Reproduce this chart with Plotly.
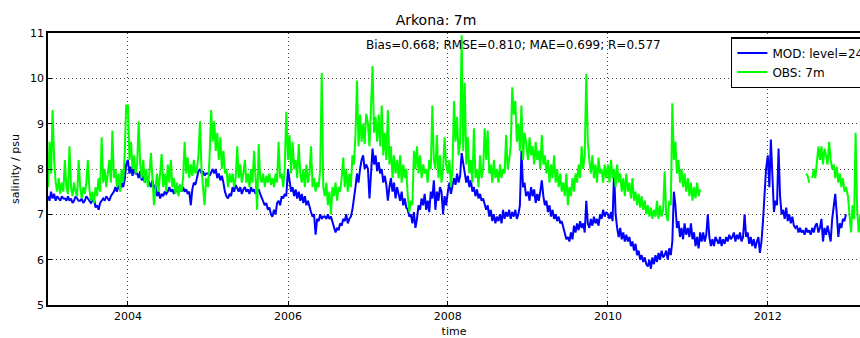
import datetime as dt
import plotly.graph_objects as go

# Weekly salinity at Arkona, 7 m (psu); one list per calendar year, week 0 = 1 January.
mod_2003 = [7.4, 7.3, 7.5, 7.35, 7.45, 7.3, 7.4, 7.35, 7.3, 7.4, 7.35, 7.35, 7.3, 7.4, 7.3, 7.35,
            7.25, 7.3, 7.4, 7.35, 7.3, 7.3, 7.35, 7.25, 7.3, 7.4, 7.35, 7.3, 7.25, 7.3, 7.35, 7.15,
            7.2, 7.1, 7.25, 7.3, 7.35, 7.3, 7.4, 7.35, 7.3, 7.4, 7.45, 7.5, 7.6, 7.5, 7.65, 7.55,
            7.7, 7.6, 7.75, 8.1]
obs_2003 = [7.6, 8.6, 7.9, 9.3, 8.2, 7.7, 7.5, 7.8, 7.45, 7.7, 7.5, 8.2, 7.6, 7.45, 8.5, 7.6,
            7.4, 7.7, 7.5, 7.4, 8.2, 7.6, 7.35, 7.6, 7.45, 7.7, 8.2, 7.55, 7.3, 7.5, 7.25, 7.6,
            7.4, 7.8, 7.5, 8.7, 7.7, 8.0, 7.6, 7.9, 8.2, 7.7, 8.85, 7.8, 8.0, 7.6, 7.9, 7.5,
            8.0, 7.7, 8.3, 9.4]

mod_2004 = [8.2, 7.9, 8.05, 7.85, 8.0, 7.9, 7.9, 7.8, 7.95, 7.75, 7.85, 7.7, 7.8, 7.75, 7.7, 7.6,
            7.75, 7.55, 7.65, 7.4, 7.5, 7.35, 7.45, 7.4, 7.5, 7.45, 7.5, 7.6, 7.5, 7.55, 7.45, 7.6,
            7.5, 7.55, 7.65, 7.5, 7.6, 7.5, 7.55, 7.45, 7.5, 7.2, 7.55, 7.7, 7.65, 7.8, 7.95, 8.0,
            7.9, 7.95, 7.85, 7.9]
obs_2004 = [9.4, 8.2, 8.6, 8.0, 8.3, 7.9, 8.1, 9.05, 8.1, 7.8, 8.2, 7.7, 8.0, 7.6, 7.9, 8.35,
            7.7, 7.2, 7.6, 7.9, 7.5, 8.0, 8.33, 7.6, 7.9, 7.5, 8.1, 7.7, 8.2, 7.6, 7.8, 7.45,
            7.7, 7.4, 7.65, 7.5, 7.8, 8.6, 7.9, 8.25, 7.8, 8.1, 7.85, 8.2, 7.9, 8.0, 8.3, 9.05,
            8.0, 7.6, 7.2, 7.8]

mod_2005 = [7.9, 7.85, 7.95, 8.0, 7.9, 8.0, 7.8, 7.9, 7.75, 7.85, 7.7, 7.5, 7.4, 7.35, 7.45, 7.4,
            7.6, 7.5, 7.65, 7.55, 7.5, 7.6, 7.45, 7.55, 7.6, 7.5, 7.55, 7.45, 7.6, 7.5, 7.55, 7.45,
            7.5, 7.55, 7.45, 7.35, 7.3, 7.2, 7.25, 7.1, 7.15, 7.0, 6.95, 7.1, 7.0, 7.25, 7.3, 7.2,
            7.4, 7.35, 7.45, 7.4]
obs_2005 = [7.6, 8.3, 9.3, 8.6, 9.05, 8.4, 8.8, 8.2, 8.7, 8.0, 8.4, 7.9, 8.0, 7.6, 7.9, 7.7,
            7.9, 7.6, 7.8, 8.5, 7.8, 8.1, 7.7, 7.9, 8.2, 7.7, 7.9, 7.6, 8.0, 7.7, 8.4, 7.8,
            7.1, 8.55, 7.8, 7.7, 7.9, 7.6, 7.85, 7.7, 7.9, 7.65, 7.8, 7.6, 7.9, 7.7, 8.6, 7.8,
            7.9, 7.6, 8.0, 9.26]

mod_2006 = [8.0, 7.7, 7.5, 7.6, 7.4, 7.55, 7.35, 7.5, 7.3, 7.45, 7.25, 7.4, 7.2, 7.3, 7.15, 7.05,
            6.95, 7.0, 6.55, 6.9, 6.85, 7.0, 6.9, 6.95, 6.95, 6.9, 7.0, 6.9, 6.95, 6.85, 6.75, 6.6,
            6.7, 6.65, 6.8, 6.75, 6.9, 6.85, 7.0, 6.8, 6.9, 6.95, 7.1, 7.3, 7.6, 7.9, 7.7, 8.0,
            8.2, 8.3, 8.0, 8.1]
obs_2006 = [8.2, 8.75, 7.9, 8.6, 8.0, 8.2, 7.8, 8.55, 7.9, 7.7, 8.0, 7.6, 8.1, 7.7, 7.9, 8.5,
            7.6, 7.8, 7.5, 7.7, 7.6, 8.0, 10.12, 7.6, 7.4, 7.7, 7.2, 7.5, 7.0, 7.6, 7.4, 7.7,
            7.3, 7.6, 7.5, 7.8, 8.25, 7.6, 8.0, 7.5, 7.9, 7.6, 8.3, 8.1, 8.75, 9.95, 8.5, 9.2,
            8.6, 9.0, 8.55, 9.22]

mod_2007 = [8.0, 7.35, 7.9, 8.45, 8.1, 8.3, 7.95, 8.15, 7.9, 8.0, 7.7, 7.85, 7.65, 7.3, 7.6, 7.8,
            7.5, 7.7, 7.35, 7.6, 7.45, 7.3, 7.5, 7.2, 7.35, 7.15, 7.1, 6.95, 7.0, 6.8, 7.05, 6.7,
            6.9, 7.2, 7.1, 7.35, 7.2, 7.45, 7.1, 7.3, 7.05, 7.5, 7.35, 7.75, 7.1, 7.5, 7.3, 7.6,
            7.5, 7.0, 7.4, 7.2]
obs_2007 = [9.0, 8.5, 9.3, 10.27, 8.8, 9.15, 8.6, 9.2, 8.5, 9.4, 8.3, 8.8, 8.2, 9.3, 8.1, 8.5,
            7.8, 8.3, 7.9, 8.2, 7.8, 8.3, 7.7, 8.1, 7.8, 8.0, 7.4, 7.05, 7.3, 7.2, 8.4, 8.0,
            8.5, 7.9, 8.3, 7.8, 8.1, 7.9, 8.0, 7.7, 8.2, 8.0, 9.4, 8.2, 8.0, 8.75, 7.8, 8.3,
            7.7, 8.0, 8.7, 8.1]

mod_2008 = [7.5, 7.7, 7.45, 7.6, 7.8, 7.65, 7.9, 7.7, 7.85, 8.35, 8.1, 7.9, 7.7, 7.85, 7.6, 7.75,
            7.5, 7.6, 7.4, 7.55, 7.35, 7.45, 7.3, 7.35, 7.2, 7.1, 7.2, 6.95, 7.1, 6.85, 7.0, 6.8,
            6.95, 6.85, 7.0, 6.8, 7.1, 6.9, 7.05, 6.95, 7.1, 6.9, 7.05, 6.95, 7.1, 6.9, 7.0, 7.2,
            8.4, 7.6, 7.7, 7.4]
obs_2008 = [7.9, 8.2, 7.6, 8.0, 9.5, 8.6, 9.15, 8.3, 8.6, 10.95, 8.4, 9.9, 8.1, 8.7, 7.9, 8.2,
            7.7, 8.9, 7.8, 8.0, 7.6, 8.3, 7.8, 8.0, 8.9, 8.2, 8.85, 7.9, 8.1, 7.7, 8.2, 7.8,
            8.0, 7.7, 8.1, 7.8, 8.0, 7.9, 8.75, 8.0, 8.2, 8.5, 9.8, 9.2, 9.5, 8.6, 9.0, 8.4,
            9.4, 8.2, 8.8, 8.6]

mod_2009 = [7.5, 7.3, 7.6, 7.4, 7.55, 7.25, 7.45, 7.3, 7.5, 7.75, 7.4, 7.2, 7.3, 7.05, 7.2, 6.95,
            7.1, 6.9, 7.0, 6.85, 6.95, 6.8, 6.85, 6.7, 6.55, 6.45, 6.5, 6.4, 6.6, 6.45, 6.75, 6.6,
            6.8, 6.65, 6.85, 6.7, 6.8, 6.6, 7.3, 6.8, 6.7, 6.9, 6.75, 6.95, 6.8, 6.9, 6.75, 7.0,
            6.9, 7.1, 6.95, 7.05]
obs_2009 = [8.2, 8.7, 8.3, 8.5, 8.1, 8.6, 8.2, 8.4, 8.0, 8.75, 8.1, 8.3, 7.9, 8.2, 7.7, 8.1,
            7.8, 8.3, 7.7, 8.0, 7.6, 7.9, 7.5, 7.7, 7.4, 7.9, 7.2, 7.6, 7.4, 7.8, 7.5, 7.9,
            7.7, 8.1, 7.8, 8.5, 8.0, 8.3, 10.1, 8.6, 8.2, 7.9, 8.3, 7.8, 8.1, 7.7, 8.25, 7.9,
            8.0, 7.7, 8.1, 7.8]

mod_2010 = [7.0, 6.9, 7.05, 6.85, 7.95, 7.0, 6.7, 6.5, 6.7, 6.45, 6.6, 6.4, 6.55, 6.4, 6.5, 6.3,
            6.4, 6.2, 6.35, 6.1, 6.2, 6.0, 6.1, 5.95, 6.05, 5.9, 5.85, 6.0, 5.8, 6.05, 5.9, 6.1,
            5.95, 6.15, 6.0, 6.2, 6.05, 6.1, 6.2, 6.0, 6.25, 6.1, 6.4, 7.5, 7.2, 6.7, 6.85, 6.5,
            6.7, 6.45, 6.8, 6.55]
obs_2010 = [8.1, 7.7, 8.2, 7.8, 8.0, 7.6, 8.1, 7.7, 7.9, 7.5, 7.8, 7.4, 7.9, 7.5, 7.7, 7.35,
            7.8, 7.3, 7.5, 7.2, 7.45, 7.15, 7.4, 7.1, 7.3, 7.0, 7.2, 6.95, 7.15, 6.9, 7.1, 6.95,
            7.3, 6.9, 7.2, 6.95, 7.1, 7.95, 7.0, 6.85, 7.3, 7.2, 9.45, 8.2, 8.6, 7.9, 8.2, 7.7,
            8.0, 7.6, 7.9, 7.5]

mod_2011 = [6.7, 6.5, 6.8, 6.45, 6.6, 6.3, 6.5, 6.25, 6.6, 6.4, 6.6, 6.4, 6.55, 7.0, 6.5, 6.3,
            6.45, 6.3, 6.5, 6.4, 6.35, 6.5, 6.3, 6.45, 6.35, 6.5, 6.4, 6.55, 6.45, 6.5, 6.6, 6.4,
            6.55, 6.45, 6.6, 6.4, 6.5, 7.0, 6.5, 6.6, 6.35, 6.5, 6.3, 6.45, 6.25, 6.4, 6.5, 6.15,
            6.4, 6.85, 7.6, 8.0]
obs_2011 = [7.8, 7.4, 7.7, 7.3, 7.6, 7.35, 7.7, 7.4, 7.55] + [None] * 43

mod_2012 = [8.3, 7.6, 8.65, 7.9, 7.05, 7.3, 7.2, 8.45, 7.4, 7.0, 7.1, 6.9, 7.15, 6.85, 7.0, 6.8,
            6.95, 6.75, 6.7, 6.75, 6.6, 6.7, 6.6, 6.65, 6.55, 6.7, 6.6, 6.65, 6.55, 6.7, 6.6, 6.75,
            6.8, 6.6, 6.7, 6.9, 6.4, 6.7, 6.55, 6.75, 6.6, 6.4, 6.9, 7.2, 7.45, 7.0, 6.5, 6.8,
            6.7, 6.9, 6.85, 7.0]
obs_2012 = [None] * 25 + [7.9, 7.85, 7.7, None, 7.8, 8.0, 7.8, 8.2, 8.5, 8.2, 8.5, 8.1, 8.45,
            8.3, 8.1, 8.6, 8.2, 8.0, 8.1, 7.8, 8.05, 7.7, 7.9, 7.6, 7.8, 7.5, 7.6]

obs_2013 = [7.4, 7.0, 6.6, 7.2, 6.9, 8.8, 7.1, 6.6, 7.0]

mod_years = {2003: mod_2003, 2004: mod_2004, 2005: mod_2005, 2006: mod_2006, 2007: mod_2007,
             2008: mod_2008, 2009: mod_2009, 2010: mod_2010, 2011: mod_2011, 2012: mod_2012}
obs_years = {2003: obs_2003, 2004: obs_2004, 2005: obs_2005, 2006: obs_2006, 2007: obs_2007,
             2008: obs_2008, 2009: obs_2009, 2010: obs_2010, 2011: obs_2011, 2012: obs_2012,
             2013: obs_2013}

tick_years = [2004, 2006, 2008, 2010, 2012]
y_ticks = [5, 6, 7, 8, 9, 10, 11]
stats_text = "Bias=0.668; RMSE=0.810; MAE=0.699; R=0.577"


def weekly(series_by_year):
    dates, values = [], []
    for year, vals in series_by_year.items():
        start = dt.date(year, 1, 1)
        for k, v in enumerate(vals):
            dates.append(start + dt.timedelta(days=7 * k))
            values.append(v)
    return dates, values


mod_t, mod_v = weekly(mod_years)
obs_t, obs_v = weekly(obs_years)

FONT = "DejaVu Sans"

fig = go.Figure()
fig.add_trace(go.Scatter(x=mod_t, y=mod_v, mode="lines", name="MOD: level=24",
                         line=dict(color="#0000ff", width=2)))
fig.add_trace(go.Scatter(x=obs_t, y=obs_v, mode="lines", name="OBS: 7m",
                         connectgaps=False, line=dict(color="#00ff00", width=2)))

fig.update_layout(
    width=860, height=338,
    margin=dict(l=48, r=0, t=33, b=33, autoexpand=False),
    paper_bgcolor="white", plot_bgcolor="white",
    font=dict(family=FONT, size=11, color="black"),
    title=dict(text="Arkona: 7m", x=0.507, xanchor="center", y=0.94, yanchor="middle",
               font=dict(family=FONT, size=14, color="black")),
    showlegend=True,
    legend=dict(x=0.841, y=0.985, xanchor="left", yanchor="top",
                bgcolor="white", bordercolor="black", borderwidth=1.5,
                font=dict(family=FONT, size=12, color="black"),
                tracegroupgap=0, itemwidth=30),
    xaxis=dict(
        type="date",
        range=[dt.date(2003, 1, 1), dt.date(2013, 2, 25)],
        tickvals=[dt.date(y, 1, 1) for y in tick_years],
        ticktext=[str(y) for y in tick_years],
        ticks="inside", ticklen=4, tickcolor="black",
        showline=True, linecolor="black", linewidth=1.5, mirror=True,
        showgrid=True, gridcolor="#444444", gridwidth=1, griddash="1px,3px",
        zeroline=False,
        title=dict(text="time", standoff=10, font=dict(family=FONT, size=11)),
    ),
    yaxis=dict(
        range=[5, 11],
        tickvals=y_ticks,
        ticks="inside", ticklen=4, tickcolor="black",
        showline=True, linecolor="black", linewidth=1.5, mirror=False,
        showgrid=True, gridcolor="#444444", gridwidth=1, griddash="1px,3px",
        zeroline=False,
        title=dict(text="salinity / psu", standoff=8, font=dict(family=FONT, size=11)),
    ),
    annotations=[dict(text=stats_text, xref="paper", yref="paper", x=0.573, y=0.955,
                      xanchor="center", yanchor="middle", showarrow=False,
                      font=dict(family=FONT, size=12, color="black"))],
)

fig.write_html("out.html")
